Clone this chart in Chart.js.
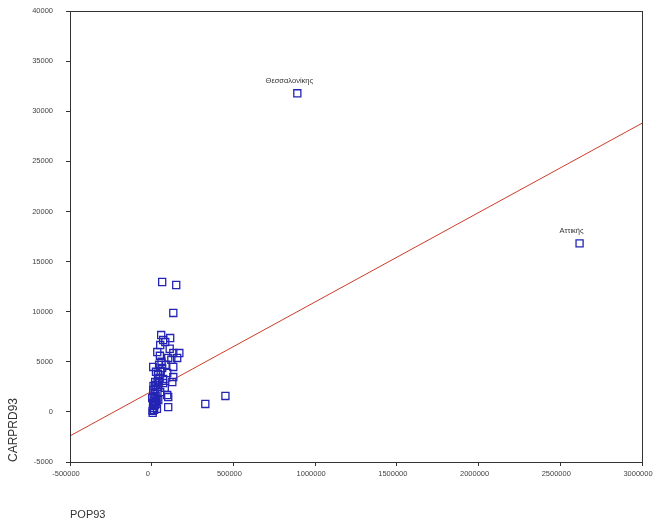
<!DOCTYPE html>
<html>
<head>
<meta charset="utf-8">
<script src="https://cdn.jsdelivr.net/npm/chart.js@4"></script>
<style>
  html, body { margin: 0; padding: 0; background: #fff; }
  #wrap { width: 653px; height: 524px; }
</style>
</head>
<body>
<div id="wrap"><canvas id="carsPop"></canvas></div>
<script>
// POP93 (x) e CARPRD93 (y)
const pop93 = [
  64000, 150000, 132000, 58000, 83000, 113000, 70000, 52000, 34000, 132000,
  169000, 101000, 156000, 9000, 64000, 132000, 95000, 40000, 132000, 21000,
  70000, 126000, 9000, 52000, 95000, 3000, 40000, 101000, 101000, 328000,
  451000, 891000, 2618000,
  5000, 10000, 15000, 20000, 8000, 25000, 12000, 30000, 18000, 35000,
  22000, 40000, 28000, 45000, 14000, 32000, 48000, 38000, 55000, 45000,
  60000, 50000, 26000, 70000, 80000, 85000, 110000, 120000,
  6000, 17000, 24000, 11000, 29000, 36000
];
const carprd93 = [
  12960, 12660, 9870, 7670, 6970, 7370, 7170, 6670, 5970, 5870,
  5870, 5380, 5380, 4480, 4380, 4480, 3880, 3680, 3480, 2980,
  2880, 2980, 2180, 1980, 1680, 1380, 1180, 480, 1480, 790,
  1590, 31790, 16820,
  100, 400, 200, 700, 900, 1000, 1500, 1300, 1800, 2000,
  2300, 2500, 2700, 3100, 600, 300, 3400, 3800, 4100, 4700,
  5000, 5600, 4000, 3300, 2400, 4700, 6300, 5200,
  -100, 1100, 1600, 2600, 800, 2900
];
// rótulos de pontos (índice -> nome)
const pointNames = { 31: "Θεσσαλονίκης", 32: "Αττικής" };

// reta de regressão
const fitX = [-500000, 3000000];
const fitY = [-2400, 28800];

const xTicks = { min: -500000, max: 3000000, step: 500000 };
const yTicks = { min: -5000, max: 40000, step: 5000 };

const tickFont = { family: "Liberation Sans", size: 7.5 };

// moldura completa em volta da área do gráfico + rótulos de pontos
const framePlugin = {
  id: "frame",
  afterDraw(chart) {
    const { ctx, chartArea: a } = chart;
    ctx.save();
    ctx.strokeStyle = "#333";
    ctx.lineWidth = 1;
    ctx.strokeRect(a.left + 0.5, a.top + 0.5, a.right - a.left, a.bottom - a.top);
    const meta = chart.getDatasetMeta(0);
    ctx.fillStyle = "#333";
    ctx.font = "7.5px 'Liberation Sans'";
    ctx.textAlign = "center";
    ctx.textBaseline = "middle";
    Object.keys(pointNames).forEach((i) => {
      const p = meta.data[i];
      ctx.fillText(pointNames[i], p.x - 8, p.y - 12);
    });
    ctx.restore();
  },
};

function generateChart() {
  const points = pop93.map((x, i) => ({ x, y: carprd93[i] }));
  const line = fitX.map((x, i) => ({ x, y: fitY[i] }));

  const ctx = document.getElementById("carsPop").getContext("2d");
  new Chart(ctx, {
    type: "scatter",
    plugins: [framePlugin],
    data: {
      datasets: [
        {
          data: points,
          pointStyle: "rect",
          pointRadius: 5,
          pointBorderWidth: 1.3,
          pointBorderColor: "#2424b4",
          pointBackgroundColor: "rgba(0,0,0,0)",
        },
        {
          data: line,
          showLine: true,
          pointRadius: 0,
          borderColor: "#cc3b2a",
          borderWidth: 1,
        },
      ],
    },
    options: {
      responsive: true,
      maintainAspectRatio: false,
      animation: false,
      layout: { padding: { left: 0, right: 11, top: 11, bottom: 0 } },
      plugins: { legend: { display: false }, tooltip: { enabled: false } },
      scales: {
        x: {
          type: "linear",
          min: xTicks.min,
          max: xTicks.max,
          ticks: {
            stepSize: xTicks.step,
            color: "#444",
            font: tickFont,
            padding: 3,
            labelOffset: -4,
            maxRotation: 0,
            autoSkip: false,
            callback: (v) => String(v),
          },
          grid: { drawOnChartArea: false, tickLength: 4, color: "#333" },
          border: { color: "#333" },
          title: {
            display: true,
            text: "POP93",
            align: "start",
            color: "#333",
            font: { family: "Liberation Sans", size: 11 },
            padding: { top: 0, bottom: 2 },
          },
          afterFit(s) {
            s.height = 62;
            s.paddingLeft = 0;
            s.paddingRight = 0;
          },
        },
        y: {
          type: "linear",
          min: yTicks.min,
          max: yTicks.max,
          ticks: {
            stepSize: yTicks.step,
            color: "#444",
            font: tickFont,
            padding: 13,
            callback: (v) => String(v),
          },
          grid: { drawOnChartArea: false, tickLength: 4, color: "#333" },
          border: { color: "#333" },
          title: {
            display: true,
            text: "CARPRD93",
            align: "start",
            color: "#333",
            font: { family: "Liberation Sans", size: 12 },
            padding: { top: 6, bottom: 0 },
          },
          afterFit(s) {
            s.width = 70;
            s.paddingTop = 0;
            s.paddingBottom = 0;
          },
        },
      },
    },
  });
}

window.onload = generateChart;
</script>
</body>
</html>
